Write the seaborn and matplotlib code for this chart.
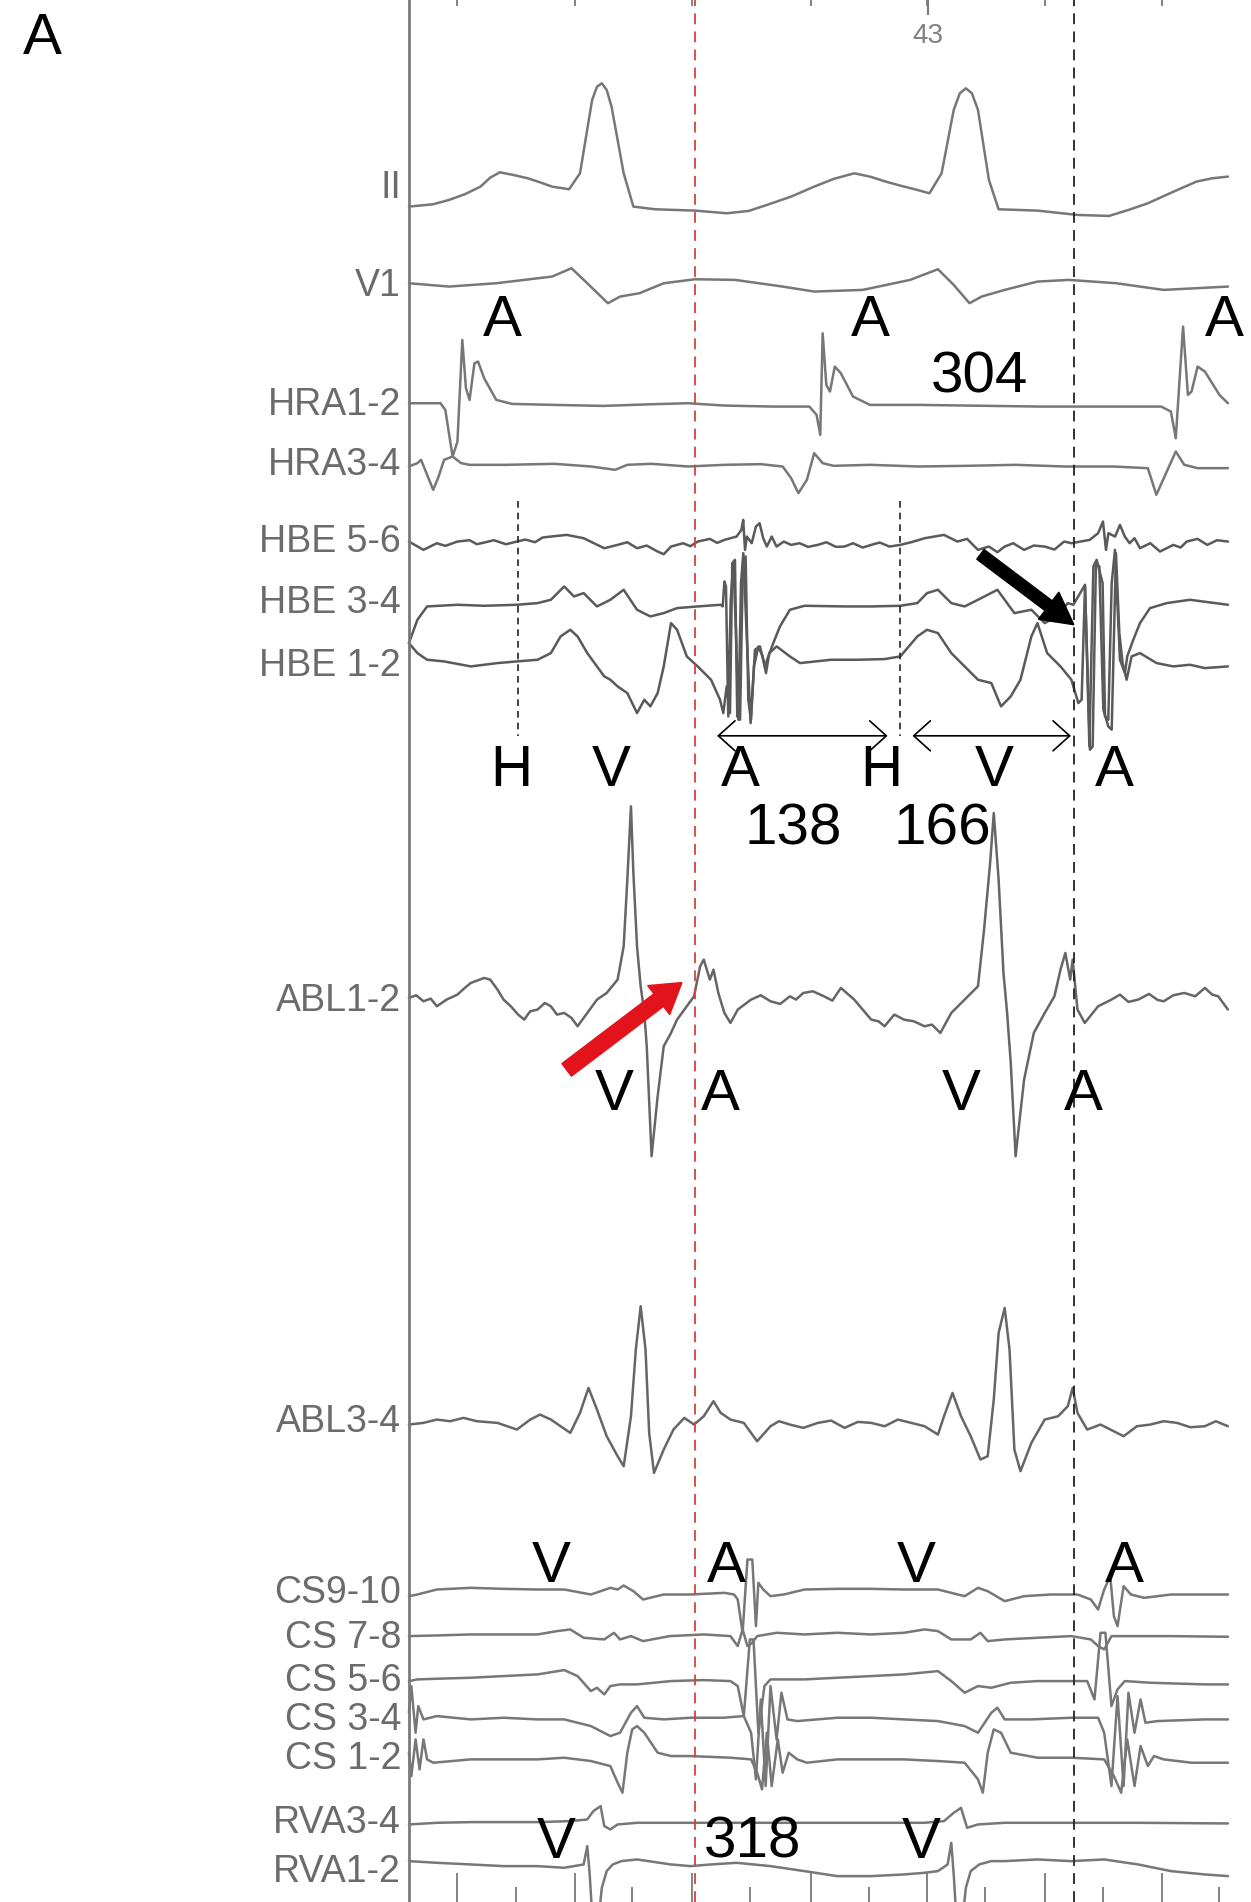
import pandas as pd
import seaborn as sns
import matplotlib.pyplot as plt
from matplotlib.patches import FancyArrow

# Intracardiac recording.
# time in ms from the start of the sweep, amplitude in raw trace units (positive = up)
ii_t = [0, 20, 33, 46, 59, 67, 75, 86, 98, 108, 118, 132, 141, 151, 155, 159, 163, 167, 177, 185,
        203, 236, 262, 280, 295, 315, 334, 350, 367, 380, 393, 406, 419, 429, 439, 449, 454, 459, 464, 469,
        478, 486, 518, 551, 577, 593, 609, 629, 649, 662, 675]
ii_v = [5, 12, 25, 42, 65, 92, 108, 100, 90, 78, 65, 57, 105, 325, 365, 375, 355, 305, 105, 5,
        -3, -7, -15, -8, 10, 35, 65, 88, 105, 95, 80, 67, 55, 45, 105, 295, 345, 360, 345, 295,
        85, -3, -7, -20, -23, -5, 15, 48, 80, 90, 95]

v1_t = [0, 33, 72, 118, 134, 147, 164, 174, 190, 210, 236, 269, 308, 334, 374, 413, 436, 449, 462, 472,
        491, 518, 544, 583, 622, 675]
v1_v = [0, -10, 0, 20, 45, 0, -60, -40, -30, 0, 12, 10, -10, -25, -20, 10, 42, -5, -60, -40,
        -20, 5, 10, 0, -20, -10]

hra12_t = [0, 26, 30, 36, 40, 44, 47, 50, 54, 57, 62, 72, 85, 120, 160, 200, 230, 260, 300, 330,
           336, 339, 341, 344, 347, 351, 356, 366, 380, 420, 480, 520, 560, 620, 628, 632, 638, 642, 645, 650,
           656, 668, 675]
hra12_v = [5, 5, -15, -155, -110, 195, 50, 15, 125, 130, 80, 15, 3, 0, -3, 2, 5, -2, -5, -5,
           -30, -90, 215, 60, 40, 115, 95, 25, 0, 0, -3, -5, -5, -5, -20, -100, 235, 30, 40, 115,
           100, 30, 5]

hra34_t = [0, 7, 10, 15, 20, 24, 29, 36, 43, 50, 80, 120, 150, 170, 180, 200, 230, 260, 290, 308,
           315, 321, 328, 334, 341, 350, 380, 420, 460, 500, 540, 580, 609, 616, 624, 632, 639, 650, 675]
hra34_v = [-5, 5, 15, -30, -75, -40, 15, 25, 5, 0, 0, 3, -5, -15, 0, 3, -5, 0, 2, -5,
           -40, -85, -45, 35, 5, -3, 0, -5, -3, 0, -5, -5, -10, -90, -25, 40, 0, -10, -10]

hbe56_t = [0, 12, 23, 30, 40, 50, 56, 62, 70, 80, 89, 96, 104, 110, 117, 130, 144, 161, 172, 180,
           188, 196, 205, 210, 216, 226, 232, 238, 248, 254, 260, 270, 274, 275.5, 277, 278.5, 282.5, 286, 289, 292,
           295, 299, 303, 309, 315, 322, 329, 337, 344, 352, 359, 366, 374, 381, 388, 396, 405, 414, 425, 441,
           452, 460, 469, 478, 485, 491, 498, 507, 515, 524, 532, 540, 546, 561, 568, 572, 574.5, 576.5, 582, 586,
           590, 594, 598, 602.5, 611, 619, 630, 636, 641, 650, 658, 666, 675]
hbe56_v = [10, -15, 5, -3, 10, 14, 2, 7, 14, 2, 10, 16, 8, 22, 25, 30, 20, -10, 0, 8,
           -10, -2, -20, -28, -5, 5, -4, 10, 18, 6, 15, 25, 45, 75, -15, 25, 5, 55, 65, 20,
           -5, 25, -5, 10, 0, 5, -6, 0, 8, -6, -5, 5, -8, 0, 7, -5, 0, 8, 20, 30,
           10, 18, -15, -5, -22, -5, 5, -15, -2, -5, -14, 10, 5, 15, 35, 70, -15, 35, 25, 60,
           25, 5, 20, -10, 5, -20, 0, -8, 10, 18, 0, 14, 10]

hbe34_t = [0, 7, 15, 40, 62, 89, 106, 117, 128, 136, 144, 155, 166, 177, 188, 199, 210, 221, 238, 257,
           258.6, 260, 261.3, 263.2, 265.2, 267.4, 269.6, 271.5, 273.7, 275.6, 278.3, 281.6, 285.2, 289.3,
           293.4, 296.2, 300.3, 305.8, 314, 326, 359, 381, 405, 419, 427, 436, 447, 458, 469, 485,
           499, 513, 524, 534, 543, 547.6, 557.2, 560.8, 564.1, 566.8, 571.7, 573.7, 576.4, 579.2, 581.9,
           586, 590.1, 592, 597, 602.5, 610.8, 624.5, 643.7, 675]
hbe34_v = [-112, -42, -2, 3, 0, 3, 8, 18, 58, 28, 38, -2, 18, 48, -12, -32, -22, -7, -2, 3,
           -2, 73, 58, -332, 18, 128, -82, -342, 68, 158, -82, -352, -132, -122,
           -182, -152, -112, -62, -12, 0, -2, -2, 0, 8, 38, 48, 8, -2, 18, 48,
           -22, -12, -52, -32, 8, 3, 63, -422, 118, 138, 68, -332, -342, 68, 168,
           -162, -202, -152, -102, -52, -7, 8, 18, 3]

hbe12_t = [0, 7, 15, 29, 51, 73, 89, 106, 117, 125, 133, 139, 147, 155, 161, 166, 172, 180, 188, 194,
           199, 205, 210, 216, 221, 229, 238, 249, 256.4, 259.1, 261.9, 264.6, 266.5, 268.7, 270.6, 272.9,
           275, 277.5, 279.7, 281.9, 284.4, 288, 291.5, 294.3, 297, 303.1, 314, 322.3, 348, 370,
           392, 405, 419, 427, 436, 447, 458, 469, 480, 488, 496, 504, 513, 518, 526, 537, 546,
           547.6, 551.7, 554.4, 557.2, 561.3, 563.5, 566.2, 569, 572.3, 576.4, 579.2, 582.7, 585.5,
           588.2, 591.5, 595.6, 602.5, 616.2, 630, 643.7, 656, 675]
hbe12_v = [50, 20, 0, -5, -20, -10, -5, 0, 20, 70, 90, 70, 20, -20, -50, -60, -80, -100, -160, -120,
           -140, -100, -20, 110, 90, 10, -20, -60, -120, -160, -80, -160, 290, 300, -170, -180,
           240, 310, -120, -180, -20, 40, 10, -40, 20, 40, 10, -10, 0, 0,
           2, 10, 70, 90, 80, 20, -20, -60, -70, -140, -110, -60, 70, 110, 20, -20, -60,
           -80, -130, -120, 220, -270, -260, 290, 280, -150, -200, -210, 320, 80,
           -10, -60, 10, 20, -10, -20, -15, -25, -20]

abl12_t = [0, 6, 12, 18, 23, 31, 40, 46, 51, 62, 67, 73, 78, 84, 90, 95, 100, 106, 112, 117,
           122, 128, 134, 139, 147, 155, 163, 172, 177, 180, 183, 185, 188, 191, 194, 196, 200, 205, 210, 216,
           221, 229, 235, 240, 243, 248, 251, 255, 260, 265, 271, 282, 290, 298, 306, 314, 319, 325, 333, 342,
           349, 356, 367, 381, 387, 392, 400, 408, 416, 425, 431, 438, 447, 458, 469, 474, 479, 482, 486, 490,
           493, 496, 500, 507, 515, 524, 532, 537, 541, 545, 547, 551, 557, 568, 579, 586, 593, 601, 610, 617,
           622, 630, 639, 648, 656, 662, 667, 675]
abl12_v = [0, 8, -10, -2, -25, -5, 10, 30, 45, 60, 55, 25, -5, -25, -50, -65, -40, -35, -15, -25,
           -50, -45, -60, -85, -45, -5, 15, 55, 155, 355, 575, 375, 155, 35, -45, -145, -475, -295, -145, -105,
           -65, -25, 5, 95, 115, 55, 85, 15, -45, -75, -35, -5, 8, -10, -18, 5, -5, 15, 20, 5,
           -8, 30, -5, -65, -70, -85, -50, -65, -70, -85, -80, -105, -45, -5, 35, 205, 405, 555, 355, 75,
           -45, -195, -475, -245, -105, -45, 5, 85, 135, 55, 115, -35, -75, -25, -5, 10, -12, -5, 12, -6,
           -10, 8, 15, 5, 30, 10, 5, -35]

abl34_t = [0, 12, 23, 34, 45, 56, 73, 89, 100, 108, 117, 133, 141, 148, 155, 163, 172, 177, 183, 187,
           191, 195, 198, 202, 210, 218, 227, 235, 243, 251, 257, 265, 276, 287, 298, 305, 314, 325, 337, 348,
           359, 370, 381, 392, 403, 414, 425, 436, 441, 448, 455, 463, 471, 477, 482, 486, 491, 495, 499, 504,
           513, 524, 535, 543, 547, 551, 559, 570, 589, 600, 611, 622, 633, 644, 656, 665, 675]
abl34_v = [0, 5, 15, 10, 20, 10, 5, -15, 15, 30, 15, -25, 35, 110, 45, -35, -95, -125, 25, 225,
           355, 225, -25, -145, -75, -15, 20, 0, 25, 70, 35, 15, 5, -50, -5, 10, 0, -10, 5, 12,
           -10, 8, 5, -5, 15, 5, -5, -30, 25, 95, 25, -35, -105, -95, 75, 275, 350, 225, -75, -140,
           -55, 15, 25, 55, 110, 35, -15, 0, -35, -5, 0, 10, 5, -8, -5, 10, -5]

cs910_t = [0, 7, 23, 51, 78, 106, 128, 150, 166, 172, 177, 185, 193, 210, 232, 260, 268, 271, 275, 279,
           283, 286, 288, 292, 298, 309, 326, 353, 381, 408, 436, 458, 469, 477, 491, 507, 529, 551, 562, 568,
           573, 578, 581, 584, 589, 595, 606, 628, 656, 675]
cs910_v = [-5, 0, 15, 20, 17, 15, 15, 0, 20, 15, 27, 10, -15, 0, 0, 5, 0, -15, -115, 105,
           105, -95, 35, 15, -5, 0, 15, 17, 17, 15, 15, -5, 20, 10, -20, -5, 0, 0, -15, -45,
           15, 55, -65, -95, 25, 0, -10, 0, 0, 0]

cs78_t = [0, 23, 51, 78, 106, 122, 133, 144, 161, 169, 174, 183, 193, 215, 243, 265, 271, 275, 279, 283,
          287, 303, 326, 353, 381, 408, 425, 436, 447, 463, 471, 477, 491, 518, 546, 562, 568, 573, 579, 590,
          628, 675]
cs78_v = [0, 2, 5, 5, 5, 15, 20, -5, -10, 10, -10, 0, -15, 0, 5, 0, -30, 20, -30, -20,
          0, 10, 5, 10, 5, 10, 20, 15, -10, -10, 10, -15, -10, -5, 0, -10, -30, -40, 0, 0,
          0, -2]

cs56_t = [0, 7, 23, 51, 78, 106, 128, 139, 150, 155, 161, 166, 174, 188, 216, 243, 265, 271, 276, 281,
          284, 288, 293, 298, 309, 326, 353, 381, 408, 436, 447, 458, 469, 480, 496, 518, 546, 559, 565, 570,
          574, 579, 584, 590, 611, 656, 675]
cs56_v = [-5, 0, 2, 5, 10, 15, 28, 10, -35, -25, -45, -20, -15, -15, -5, -2, -5, -20, -110, 120,
          120, -160, -20, 0, 0, 0, 5, 10, 15, 25, -5, -40, -20, -25, -10, -5, -5, -5, -60, 140,
          140, -80, -30, -5, -10, -15, -15]

cs34_t = [0, 2, 5.5, 7.7, 12, 23, 51, 78, 106, 128, 150, 166, 174, 183, 188, 194, 210, 232, 259, 276,
          282, 286, 290, 294, 298, 303, 307, 312, 320, 353, 381, 408, 436, 458, 469, 480, 485, 491, 513, 546,
          568, 573, 579, 584, 589, 593, 598, 603, 607, 617, 656, 675]
cs34_v = [15, 95, -45, 35, -5, 5, -5, 0, -5, -5, -25, -55, -45, 15, 35, 0, -5, 0, 0, 5,
          -45, -185, 55, -205, 95, -65, 75, -5, -10, 0, 0, -5, -10, -25, -45, 15, 30, -5, -5, 0,
          0, -45, -205, 65, -205, 75, -45, 55, -15, -10, -5, -5]

cs12_t = [0, 2, 5.5, 8.8, 12, 15, 20, 51, 78, 106, 128, 150, 166, 172, 176, 180, 184, 188, 194, 205,
          216, 232, 265, 282, 287, 291, 295, 299, 304, 308, 313, 320, 328, 353, 381, 408, 436, 458, 469, 473,
          477, 482, 488, 496, 518, 546, 573, 581, 587, 592, 598, 603, 609, 614, 622, 645, 675]
cs12_v = [25, -45, 65, -25, 65, 5, -5, 5, 5, 5, 10, 0, -15, -65, -95, 25, 95, 105, 85, 25,
          15, 15, 10, 5, -35, -85, 85, -75, 65, -35, 25, 5, -5, 5, 5, 5, 0, -5, -55, -95,
          25, 95, 85, 25, 10, 10, 5, -45, -95, 65, -75, 45, -15, 15, 5, -5, -5]

rva34_t = [0, 23, 51, 78, 106, 133, 147, 152, 158, 161, 166, 172, 188, 216, 243, 270, 325, 381, 425, 441,
           449, 455, 460, 469, 491, 546, 601, 675]
rva34_v = [-5, 0, 2, 2, 2, 5, 10, 35, 50, -10, -20, -5, 0, 0, 0, 0, 0, 0, 0, 5,
           30, 45, -15, -5, 0, 0, 0, -2]

rva12_t = [0, 23, 51, 78, 106, 128, 136, 144, 147, 149, 151, 154, 157, 159, 163, 168, 175, 188, 216, 232,
           249, 270, 298, 326, 353, 381, 408, 425, 436, 444, 447, 449, 451, 454, 457, 459, 463, 470, 480, 491,
           518, 546, 573, 601, 628, 656, 675]
rva12_v = [0, -5, -10, -15, -15, -20, -15, -10, 45, -40, -160, -160, -150, -80, -30, -10, 0, 5, -10, -15,
           -10, -5, -15, -30, -45, -45, -40, -35, -30, -10, 55, -40, -160, -160, -150, -80, -30, -10, 0, 0,
           5, 0, 5, -10, -30, -40, -45]

channels = ['II', 'V1', 'HRA1-2', 'HRA3-4', 'HBE 5-6', 'HBE 3-4', 'HBE 1-2', 'ABL1-2', 'ABL3-4',
            'CS9-10', 'CS 7-8', 'CS 5-6', 'CS 3-4', 'CS 1-2', 'RVA3-4', 'RVA1-2']
series = {
    'II': (ii_t, ii_v), 'V1': (v1_t, v1_v),
    'HRA1-2': (hra12_t, hra12_v), 'HRA3-4': (hra34_t, hra34_v),
    'HBE 5-6': (hbe56_t, hbe56_v), 'HBE 3-4': (hbe34_t, hbe34_v), 'HBE 1-2': (hbe12_t, hbe12_v),
    'ABL1-2': (abl12_t, abl12_v), 'ABL3-4': (abl34_t, abl34_v),
    'CS9-10': (cs910_t, cs910_v), 'CS 7-8': (cs78_t, cs78_v), 'CS 5-6': (cs56_t, cs56_v),
    'CS 3-4': (cs34_t, cs34_v), 'CS 1-2': (cs12_t, cs12_v),
    'RVA3-4': (rva34_t, rva34_v), 'RVA1-2': (rva12_t, rva12_v),
}

# annotation letters / measured intervals (ms) and where they sit in time
mark_text = ['A', 'A', 'A', '304', 'H', 'V', 'A', 'H', 'V', 'A', '138', '166',
             'V', 'A', 'V', 'A', 'V', 'A', 'V', 'A', 'V', '318', 'V']
mark_t = [77, 380, 672, 470, 84, 167, 273, 389, 482, 581, 317, 440,
          169, 257, 455, 556, 117, 262, 418, 590, 121, 283, 422]
interval_from = [254, 415]
interval_to = [394.5, 545.6]
h_marks = [90, 405]
red_line_t = 235.5
black_line_t = 548
tick_major = [40, 137, 233, 331, 427, 524, 621]
tick_minor = [88, 184, 281, 379, 475, 572, 668]
top_label = '43'
top_label_t = 428

# ---- layout (display units, y grows downward) ----
gain = 0.2747
baseline = {'II': 171.7, 'V1': 233.5, 'HRA1-2': 333.8, 'HRA3-4': 383.2, 'HBE 5-6': 449.2,
            'HBE 3-4': 499.4, 'HBE 1-2': 543.9, 'ABL1-2': 822.7, 'ABL3-4': 1174.4,
            'CS9-10': 1314.5, 'CS 7-8': 1348.8, 'CS 5-6': 1384.5, 'CS 3-4': 1416.1,
            'CS 1-2': 1451.8, 'RVA3-4': 1502.7, 'RVA1-2': 1534.3}
label_y = {'II': 155, 'V1': 236, 'HRA1-2': 334, 'HRA3-4': 383, 'HBE 5-6': 447, 'HBE 3-4': 497,
           'HBE 1-2': 549, 'ABL1-2': 825, 'ABL3-4': 1172, 'CS9-10': 1313, 'CS 7-8': 1350,
           'CS 5-6': 1386, 'CS 3-4': 1418, 'CS 1-2': 1450, 'RVA3-4': 1503, 'RVA1-2': 1543}
mark_y = [265, 265, 265, 311, 636, 636, 636, 636, 636, 636, 684, 684,
          903, 903, 903, 903, 1292, 1292, 1292, 1292, 1519, 1519, 1519]
colors = {c: '#777777' for c in channels}
for c in ['HBE 5-6', 'HBE 3-4', 'HBE 1-2']:
    colors[c] = '#5a5a5a'
for c in ['ABL1-2', 'ABL3-4']:
    colors[c] = '#666666'

rows = []
for name in channels:
    t, v = series[name]
    for ti, vi in zip(t, v):
        rows.append((name, ti, baseline[name] - gain * vi))
df = pd.DataFrame(rows, columns=['channel', 't', 'y'])

sns.set_style('white')
plt.rcParams['font.family'] = ['Liberation Sans', 'DejaVu Sans']

fig = plt.figure(figsize=(12.51, 19.02), dpi=100)
ax = fig.add_axes([0, 0, 1, 1])
sns.lineplot(data=df, x='t', y='y', hue='channel', palette=colors, estimator=None,
             sort=False, legend=False, linewidth=1.8, ax=ax)
ax.set_xlim(-337, 694)
ax.set_ylim(1568, 0)
ax.axis('off')

# time axis line and ticks
ax.axvline(0, color='#7a7a7a', lw=2)
ax.vlines(tick_major, 1544, 1568, colors='#7a7a7a', lw=1.3)
ax.vlines(tick_minor, 1556, 1568, colors='#7a7a7a', lw=1.3)
ax.vlines(tick_major, 0, 5, colors='#7a7a7a', lw=1.3)
ax.vlines([top_label_t], 0, 12, colors='#7a7a7a', lw=1.5)
ax.text(top_label_t, 30, top_label, ha='center', va='center', fontsize=20, color='#808080')

# reference lines
ax.axvline(red_line_t, color='#d8413c', lw=1.3, ls=(0, (6, 4)))
ax.axvline(black_line_t, color='#222222', lw=1.3, ls=(0, (6, 4)))
ax.vlines(h_marks, 413, 607, colors='#222222', lw=1.2, linestyles=(0, (4, 3)))

for a, b in zip(interval_from, interval_to):
    ax.annotate('', xy=(b, 606.6), xytext=(a, 606.6),
                arrowprops=dict(arrowstyle='<->,head_length=0.5,head_width=0.45',
                                lw=1.2, color='black', mutation_scale=24, shrinkA=0, shrinkB=0))

# channel labels
for name in channels:
    ax.text(-6.5, label_y[name], name, ha='right', va='center', fontsize=27, color='#6b6b6b')

for txt, tt, yy in zip(mark_text, mark_t, mark_y):
    ax.text(tt, yy, txt, ha='center', va='center', fontsize=42, color='black')

ax.text(-302, 32, 'A', ha='center', va='center', fontsize=42, color='black')

ax.add_patch(FancyArrow(471, 457, 77, 58, width=10, head_width=28, head_length=26,
                        length_includes_head=True, color='black', zorder=5))
ax.add_patch(FancyArrow(130, 882, 95, -72, width=13, head_width=30, head_length=24,
                        length_includes_head=True, color='#e3131b', zorder=5))

fig.savefig('out.png', dpi=100)
